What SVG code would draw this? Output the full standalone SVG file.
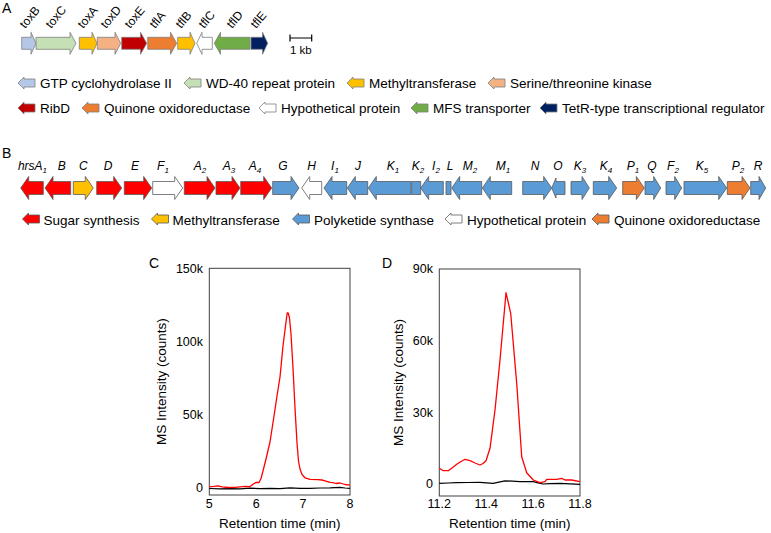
<svg xmlns="http://www.w3.org/2000/svg" width="771" height="533" viewBox="0 0 771 533">
<style>
text{font-family:"Liberation Sans",Arial,sans-serif;fill:#000}
.pl{font-size:14px}
.ga{font-size:12px}
.gb{font-size:12px;font-style:italic;text-anchor:middle}
.sub{font-size:8px}
.lg{font-size:13.5px}
.tk{font-size:12.5px}
.ax{font-size:13.5px}
.ga2{stroke:#7f7f7f;stroke-width:0.8}
.gbs{stroke:#595959;stroke-width:0.8}
.frame{fill:none;stroke:#404040;stroke-width:1}
.red{fill:none;stroke:#ff0000;stroke-width:1.3;stroke-linejoin:round}
.blk{fill:none;stroke:#000;stroke-width:1.2;stroke-linejoin:round}
.c1{fill:#b4c7e7}.c2{fill:#c5e0b4}.c3{fill:#ffc000}.c4{fill:#f4b183}.c5{fill:#c00000}.c6{fill:#ed7d31}.c7{fill:#fff}.c8{fill:#70ad47}.c9{fill:#002060}.cr{fill:#ff0000}.cb{fill:#5b9bd5}
</style>

<!-- Panel A -->
<text class="pl" x="2" y="13">A</text>
<g id="geneA">
<g id="toxB"><path class="c1 ga2" d="M21.7,37.3 L31,37.3 L31,32.3 L36,43.3 L31,54.3 L31,49.3 L21.7,49.3 Z"/><text class="ga" transform="translate(25,29) rotate(-50)">toxB</text></g>
<g id="toxC"><path class="c2 ga2" d="M36,37.3 L70,37.3 L70,32.3 L76,43.3 L70,54.3 L70,49.3 L36,49.3 Z"/><text class="ga" transform="translate(51,29) rotate(-50)">toxC</text></g>
<g id="toxA"><path class="c3 ga2" d="M79.3,37.3 L92,37.3 L92,32.3 L97,43.3 L92,54.3 L92,49.3 L79.3,49.3 Z"/><text class="ga" transform="translate(83,29) rotate(-50)">toxA</text></g>
<g id="toxD"><path class="c4 ga2" d="M97.3,37.3 L115,37.3 L115,32.3 L120.7,43.3 L115,54.3 L115,49.3 L97.3,49.3 Z"/><text class="ga" transform="translate(106,29) rotate(-50)">toxD</text></g>
<g id="toxE"><path class="c5 ga2" d="M121.7,37.3 L140.5,37.3 L140.5,32.3 L146.7,43.3 L140.5,54.3 L140.5,49.3 L121.7,49.3 Z"/><text class="ga" transform="translate(130,29) rotate(-50)">toxE</text></g>
<g id="tflA"><path class="c6 ga2" d="M147.7,37.3 L170.5,37.3 L170.5,32.3 L176.7,43.3 L170.5,54.3 L170.5,49.3 L147.7,49.3 Z"/><text class="ga" transform="translate(155,29) rotate(-50)">tflA</text></g>
<g id="tflB"><path class="c3 ga2" d="M177.7,37.3 L190,37.3 L190,32.3 L195,43.3 L190,54.3 L190,49.3 L177.7,49.3 Z"/><text class="ga" transform="translate(181,29) rotate(-50)">tflB</text></g>
<g id="tflC"><path class="c7 ga2" d="M212.3,37.3 L202,37.3 L202,32.3 L196.7,43.3 L202,54.3 L202,49.3 L212.3,49.3 Z"/><text class="ga" transform="translate(204,29) rotate(-50)">tflC</text></g>
<g id="tflD"><path class="c8 ga2" d="M250,37.3 L220.5,37.3 L220.5,32.3 L214.3,43.3 L220.5,54.3 L220.5,49.3 L250,49.3 Z"/><text class="ga" transform="translate(232,29) rotate(-50)">tflD</text></g>
<g id="tflE"><path class="c9 ga2" d="M251,37.3 L262.5,37.3 L262.5,32.3 L267.7,43.3 L262.5,54.3 L262.5,49.3 L251,49.3 Z"/><text class="ga" transform="translate(256,29) rotate(-50)">tflE</text></g>
</g>
<g id="scalebar">
<path d="M290,38 H311.7 M290,34.5 V41.5 M311.7,34.5 V41.5" stroke="#000" stroke-width="1.2" fill="none"/>
<text x="300.8" y="53.5" style="font-size:11.5px;text-anchor:middle">1 kb</text>
</g>

<!-- Legend A -->
<g id="legendA">
<g id="lgA1"><path class="c1 ga2" d="M35,79 L24,79 L24,77 L18,83 L24,89 L24,87 L35,87 Z"/><text class="lg" x="40" y="88">GTP cyclohydrolase II</text></g>
<g id="lgA2"><path class="c2 ga2" d="M201,79 L190,79 L190,77 L184,83 L190,89 L190,87 L201,87 Z"/><text class="lg" x="206" y="88">WD-40 repeat protein</text></g>
<g id="lgA3"><path class="c3 ga2" d="M364,79 L353,79 L353,77 L347,83 L353,89 L353,87 L364,87 Z"/><text class="lg" x="369" y="88">Methyltransferase</text></g>
<g id="lgA4"><path class="c4 ga2" d="M505,79 L494,79 L494,77 L488,83 L494,89 L494,87 L505,87 Z"/><text class="lg" x="510" y="88">Serine/threonine kinase</text></g>
<g id="lgA5"><path class="c5 ga2" d="M35,104 L24,104 L24,102 L18,108 L24,114 L24,112 L35,112 Z"/><text class="lg" x="40" y="113">RibD</text></g>
<g id="lgA6"><path class="c6 ga2" d="M99,104 L88,104 L88,102 L82,108 L88,114 L88,112 L99,112 Z"/><text class="lg" x="104" y="113">Quinone oxidoreductase</text></g>
<g id="lgA7"><path class="c7 ga2" d="M276,104 L265,104 L265,102 L259,108 L265,114 L265,112 L276,112 Z"/><text class="lg" x="281" y="113">Hypothetical protein</text></g>
<g id="lgA8"><path class="c8 ga2" d="M428,104 L417,104 L417,102 L411,108 L417,114 L417,112 L428,112 Z"/><text class="lg" x="433" y="113">MFS transporter</text></g>
<g id="lgA9"><path class="c9 ga2" d="M557,104 L546,104 L546,102 L540,108 L546,114 L546,112 L557,112 Z"/><text class="lg" x="562" y="113">TetR-type transcriptional regulator</text></g>
</g>

<!-- Panel B -->
<text class="pl" x="2" y="158">B</text>
<g id="geneB">
<g id="hrsA1"><path class="cr gbs" d="M43.3,181.5 L28.7,181.5 L28.7,176.5 L20.7,188 L28.7,199.5 L28.7,194.5 L43.3,194.5 Z"/><text class="gb" x="32.5" y="170">hrsA<tspan class="sub" dy="3">1</tspan></text></g>
<g id="B"><path class="cr gbs" d="M70.7,181.5 L53,181.5 L53,176.5 L45,188 L53,199.5 L53,194.5 L70.7,194.5 Z"/><text class="gb" x="61.7" y="170">B</text></g>
<g id="C"><path class="c3 gbs" d="M73.3,181.5 L85.3,181.5 L85.3,176.5 L93.3,188 L85.3,199.5 L85.3,194.5 L73.3,194.5 Z"/><text class="gb" x="83.3" y="170">C</text></g>
<g id="D"><path class="cr gbs" d="M96.7,181.5 L113.7,181.5 L113.7,176.5 L121.7,188 L113.7,199.5 L113.7,194.5 L96.7,194.5 Z"/><text class="gb" x="108" y="170">D</text></g>
<g id="E"><path class="cr gbs" d="M124.3,181.5 L143.7,181.5 L143.7,176.5 L151.7,188 L143.7,199.5 L143.7,194.5 L124.3,194.5 Z"/><text class="gb" x="135" y="170">E</text></g>
<g id="F1"><path class="c7" stroke="#7f7f7f" stroke-width="1" d="M152.7,181.5 L174.7,181.5 L174.7,176.5 L182.7,188 L174.7,199.5 L174.7,194.5 L152.7,194.5 Z"/><text class="gb" x="163" y="170">F<tspan class="sub" dy="3">1</tspan></text></g>
<g id="A2"><path class="cr gbs" d="M184.3,181.5 L207,181.5 L207,176.5 L215,188 L207,199.5 L207,194.5 L184.3,194.5 Z"/><text class="gb" x="200" y="170">A<tspan class="sub" dy="3">2</tspan></text></g>
<g id="A3"><path class="cr gbs" d="M216,181.5 L232,181.5 L232,176.5 L240,188 L232,199.5 L232,194.5 L216,194.5 Z"/><text class="gb" x="229" y="170">A<tspan class="sub" dy="3">3</tspan></text></g>
<g id="A4"><path class="cr gbs" d="M240.7,181.5 L263.7,181.5 L263.7,176.5 L271.7,188 L263.7,199.5 L263.7,194.5 L240.7,194.5 Z"/><text class="gb" x="255" y="170">A<tspan class="sub" dy="3">4</tspan></text></g>
<g id="G"><path class="cb gbs" d="M272.7,181.5 L291,181.5 L291,176.5 L299,188 L291,199.5 L291,194.5 L272.7,194.5 Z"/><text class="gb" x="283" y="170">G</text></g>
<g id="H"><path class="c7" stroke="#7f7f7f" stroke-width="1" d="M321.7,181.5 L309.7,181.5 L309.7,176.5 L301.7,188 L309.7,199.5 L309.7,194.5 L321.7,194.5 Z"/><text class="gb" x="311.7" y="170">H</text></g>
<g id="I1"><path class="cb gbs" d="M346.7,181.5 L332,181.5 L332,176.5 L324,188 L332,199.5 L332,194.5 L346.7,194.5 Z"/><text class="gb" x="335" y="170">I<tspan class="sub" dy="3">1</tspan></text></g>
<g id="J"><path class="cb gbs" d="M367.7,181.5 L355.3,181.5 L355.3,176.5 L347.3,188 L355.3,199.5 L355.3,194.5 L367.7,194.5 Z"/><text class="gb" x="358" y="170">J</text></g>
<g id="K1"><path class="cb gbs" d="M411,181.5 L376.3,181.5 L376.3,176.5 L368.3,188 L376.3,199.5 L376.3,194.5 L411,194.5 Z"/><text class="gb" x="393" y="170">K<tspan class="sub" dy="3">1</tspan></text></g>
<g id="K2"><path class="cb gbs" d="M411.7,181.5 H420.7 V194.5 H411.7 Z"/><text class="gb" x="418" y="170">K<tspan class="sub" dy="3">2</tspan></text></g>
<g id="I2"><path class="cb gbs" d="M443.3,181.5 L428.7,181.5 L428.7,176.5 L420.7,188 L428.7,199.5 L428.7,194.5 L443.3,194.5 Z"/><text class="gb" x="436" y="170">I<tspan class="sub" dy="3">2</tspan></text></g>
<g id="L"><path class="cb gbs" d="M446,181.5 H451 V194.5 H446 Z"/><text class="gb" x="450" y="170">L</text></g>
<g id="M2"><path class="cb gbs" d="M481.7,181.5 L459.7,181.5 L459.7,176.5 L451.7,188 L459.7,199.5 L459.7,194.5 L481.7,194.5 Z"/><text class="gb" x="470" y="170">M<tspan class="sub" dy="3">2</tspan></text></g>
<g id="M1"><path class="cb gbs" d="M511.7,181.5 L490.3,181.5 L490.3,176.5 L482.3,188 L490.3,199.5 L490.3,194.5 L511.7,194.5 Z"/><text class="gb" x="503" y="170">M<tspan class="sub" dy="3">1</tspan></text></g>
<g id="N"><path class="cb gbs" d="M522.7,181.5 L543.7,181.5 L543.7,176.5 L551.7,188 L543.7,199.5 L543.7,194.5 L522.7,194.5 Z"/><text class="gb" x="535" y="170">N</text></g>
<g id="O"><path class="cb gbs" d="M565,181.5 L556,181.5 L556,178 L551.7,188 L556,198 L556,194.5 L565,194.5 Z"/><text class="gb" x="558" y="170">O</text></g>
<g id="K3"><path class="cb gbs" d="M571,181.5 L582,181.5 L582,176.5 L589.3,188 L582,199.5 L582,194.5 L571,194.5 Z"/><text class="gb" x="580" y="170">K<tspan class="sub" dy="3">3</tspan></text></g>
<g id="K4"><path class="cb gbs" d="M593.3,181.5 L608.7,181.5 L608.7,176.5 L616.7,188 L608.7,199.5 L608.7,194.5 L593.3,194.5 Z"/><text class="gb" x="606" y="170">K<tspan class="sub" dy="3">4</tspan></text></g>
<g id="P1"><path class="c6 gbs" d="M622.7,181.5 L636.3,181.5 L636.3,176.5 L644.3,188 L636.3,199.5 L636.3,194.5 L622.7,194.5 Z"/><text class="gb" x="633" y="170">P<tspan class="sub" dy="3">1</tspan></text></g>
<g id="Q"><path class="cb gbs" d="M645,181.5 L653.7,181.5 L653.7,176.5 L660.7,188 L653.7,199.5 L653.7,194.5 L645,194.5 Z"/><text class="gb" x="652" y="170">Q</text></g>
<g id="F2"><path class="cb gbs" d="M666,181.5 L674.7,181.5 L674.7,176.5 L681.7,188 L674.7,199.5 L674.7,194.5 L666,194.5 Z"/><text class="gb" x="673" y="170">F<tspan class="sub" dy="3">2</tspan></text></g>
<g id="K5"><path class="cb gbs" d="M684,181.5 L718.7,181.5 L718.7,176.5 L726.7,188 L718.7,199.5 L718.7,194.5 L684,194.5 Z"/><text class="gb" x="702" y="170">K<tspan class="sub" dy="3">5</tspan></text></g>
<g id="P2"><path class="c6 gbs" d="M727.3,181.5 L742,181.5 L742,176.5 L750,188 L742,199.5 L742,194.5 L727.3,194.5 Z"/><text class="gb" x="738" y="170">P<tspan class="sub" dy="3">2</tspan></text></g>
<g id="R"><path class="cb gbs" d="M750.7,181.5 L759,181.5 L759,176.5 L765.7,188 L759,199.5 L759,194.5 L750.7,194.5 Z"/><text class="gb" x="758" y="170">R</text></g>
</g>

<!-- Legend B -->
<g id="legendB">
<g id="lgB1"><path class="cr gbs" d="M39.5,215 L28.5,215 L28.5,213 L22.5,219 L28.5,225 L28.5,223 L39.5,223 Z"/><text class="lg" x="43.5" y="224.5">Sugar synthesis</text></g>
<g id="lgB2"><path class="c3 gbs" d="M168.5,215 L157.5,215 L157.5,213 L151.5,219 L157.5,225 L157.5,223 L168.5,223 Z"/><text class="lg" x="172.5" y="224.5">Methyltransferase</text></g>
<g id="lgB3"><path class="cb gbs" d="M309.5,215 L298.5,215 L298.5,213 L292.5,219 L298.5,225 L298.5,223 L309.5,223 Z"/><text class="lg" x="314" y="224.5">Polyketide synthase</text></g>
<g id="lgB4"><path class="c7" stroke="#7f7f7f" stroke-width="1" d="M462,215 L451,215 L451,213 L445,219 L451,225 L451,223 L462,223 Z"/><text class="lg" x="467" y="224.5">Hypothetical protein</text></g>
<g id="lgB5"><path class="c6 gbs" d="M609,215 L598,215 L598,213 L592,219 L598,225 L598,223 L609,223 Z"/><text class="lg" x="614" y="224.5">Quinone oxidoreductase</text></g>
</g>

<!-- Chart C -->
<g id="chartC">
<text class="pl" x="149" y="268">C</text>
<rect class="frame" x="209.3" y="268.3" width="140.7" height="226.7"/>
<g class="tk" style="text-anchor:end">
<text x="203" y="272.6">150k</text>
<text x="203" y="346">100k</text>
<text x="203" y="419.3">50k</text>
<text x="203" y="491.8">0</text>
</g>
<g class="tk" style="text-anchor:middle">
<text x="209.3" y="508">5</text>
<text x="256.2" y="508">6</text>
<text x="303.1" y="508">7</text>
<text x="350" y="508">8</text>
</g>
<text class="ax" x="279.7" y="528" style="text-anchor:middle">Retention time (min)</text>
<text class="ax" transform="translate(166,381.7) rotate(-90)" style="text-anchor:middle">MS Intensity (counts)</text>
<polyline class="blk" points="209.3,488.5 220,488.9 230,488.6 240,488.9 250,488.2 260,488.6 270,488.4 280,488.7 290,487.9 300,488.4 310,488.3 320,488 330,487.8 340,487.3 345,488 350,488.4"/>
<polyline class="red" points="209.3,486.8 214,486.4 218,485.8 222,486.8 228,487.5 235,487.4 240,486.8 245,486.4 250,486.6 253,484.2 256,482.4 259,482.5 261,478.5 263,471 266,459 270,442 274,416 277,396 280,377 283,346 285.5,326 287.2,313 288.2,313 289.5,318 291,334 293,368 295,408 297,443 298.5,461 300,469 302,474.5 305,477.8 310,479.3 318,479.6 322,480 325,480.8 330,482.3 333,482.6 336,483.5 340,483 345,484.5 350,485.2"/>
</g>

<!-- Chart D -->
<g id="chartD">
<text class="pl" x="382" y="268">D</text>
<rect class="frame" x="439.3" y="269" width="140.7" height="227"/>
<g class="tk" style="text-anchor:end">
<text x="433" y="273.3">90k</text>
<text x="433" y="345">60k</text>
<text x="433" y="416.6">30k</text>
<text x="433" y="487.8">0</text>
</g>
<g class="tk" style="text-anchor:middle">
<text x="439.3" y="508">11.2</text>
<text x="486.2" y="508">11.4</text>
<text x="533.1" y="508">11.6</text>
<text x="580" y="508">11.8</text>
</g>
<text class="ax" x="509.7" y="528" style="text-anchor:middle">Retention time (min)</text>
<text class="ax" transform="translate(403,382.5) rotate(-90)" style="text-anchor:middle">MS Intensity (counts)</text>
<polyline class="blk" points="439.3,483.3 448,483 456.7,482.7 468,482.5 480,482.3 493,483.3 500,481.8 505,480.8 512,481.2 520,481.7 533.3,481.7 538,482.8 543,484 550,483.6 560,483.3 570,483.8 580,484.3"/>
<polyline class="red" points="439.3,468.3 443.3,470.7 448.3,470.7 452,468 456.7,464.3 461,461.5 465,459.3 470,460.7 475,463 480,465 483,463.5 486,460.7 490,448.3 495,410 500,360 506,292.7 510.7,313.3 516.7,383.3 521.7,456.7 526.7,472.7 533.3,480 540,482.7 545,481.7 546.7,479.3 556.7,479.3 561.7,478.3 565,480 571.7,480 580,481.7"/>
</g>
</svg>
